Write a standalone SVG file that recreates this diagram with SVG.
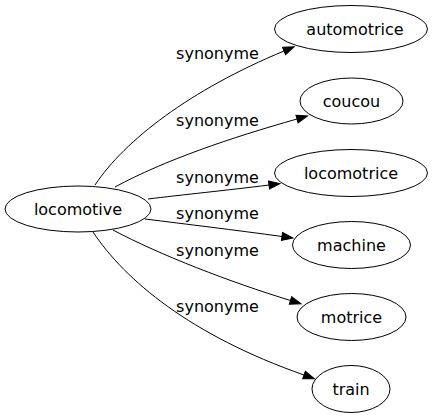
<svg xmlns="http://www.w3.org/2000/svg" width="433" height="419" viewBox="0 0 433 419">
<defs>
<style>
.node ellipse{fill:none;stroke:#000;stroke-width:1}
text{font-family:"DejaVu Sans",sans-serif;font-size:16px;fill:#000;text-anchor:middle}
.edges path{fill:none;stroke:#000;stroke-width:1;marker-end:url(#arr)}
</style>
<marker id="arr" markerUnits="userSpaceOnUse" markerWidth="12" markerHeight="10" refX="0" refY="5" orient="auto" overflow="visible">
<path d="M0,1 L11,5 L0,9 Z" fill="#000" stroke="#000" stroke-width="1"/>
</marker>
</defs>
<rect width="433" height="419" fill="#fff"/>
<g class="edges" id="edges">
<path d="M95,185 C125,140 190,90 284,51"/>
<path d="M115,187 C165,160 230,138 297,119"/>
<path d="M148,199 C180,195 230,190 269,185"/>
<path d="M145,219 C185,224 235,230 282,236.5"/>
<path d="M113,230 C160,255 230,282 290.5,300.5"/>
<path d="M93,232 C125,280 190,335 304,375"/>
<text x="217.5" y="59">synonyme</text>
<text x="217.5" y="126">synonyme</text>
<text x="217.5" y="183">synonyme</text>
<text x="217.5" y="219">synonyme</text>
<text x="217.5" y="256">synonyme</text>
<text x="217.5" y="312">synonyme</text>
</g>
<g class="node" id="n-locomotive"><ellipse cx="78" cy="209" rx="73" ry="23"/><text x="78" y="214.5">locomotive</text></g>
<g class="node" id="n-automotrice"><ellipse cx="351" cy="29" rx="76.5" ry="23.5"/><text x="355" y="34.5">automotrice</text></g>
<g class="node" id="n-coucou"><ellipse cx="351.5" cy="101" rx="51.5" ry="23"/><text x="351.5" y="107">coucou</text></g>
<g class="node" id="n-locomotrice"><ellipse cx="351" cy="173" rx="76.5" ry="23.5"/><text x="351" y="179">locomotrice</text></g>
<g class="node" id="n-machine"><ellipse cx="351.5" cy="245" rx="59" ry="23.5"/><text x="351.5" y="251">machine</text></g>
<g class="node" id="n-motrice"><ellipse cx="351.5" cy="317" rx="54.5" ry="23.5"/><text x="351.5" y="323">motrice</text></g>
<g class="node" id="n-train"><ellipse cx="351" cy="389" rx="39" ry="23.5"/><text x="351" y="395">train</text></g>
</svg>
